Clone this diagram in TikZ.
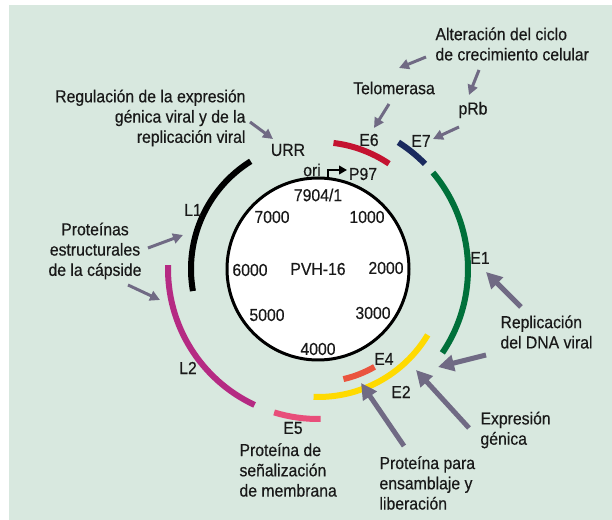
\documentclass[tikz,border=0pt]{standalone}
\usepackage{fontspec}
\setmainfont{Liberation Sans}[FakeStretch=0.91,FakeBold=0.4]
\usetikzlibrary{arrows.meta}

\definecolor{bgmint}{RGB}{216,232,223}
\definecolor{arrowgray}{RGB}{112,106,132}
\definecolor{geneLone}{RGB}{0,0,0}
\definecolor{geneLtwo}{RGB}{181,42,131}
\definecolor{geneEsix}{RGB}{196,18,48}
\definecolor{geneEseven}{RGB}{26,42,94}
\definecolor{geneEone}{RGB}{0,112,58}
\definecolor{geneEtwo}{RGB}{255,218,0}
\definecolor{geneEfour}{RGB}{234,84,62}
\definecolor{geneEfive}{RGB}{232,78,122}

\tikzset{every picture/.style={line width=0.75pt}}

\begin{document}
\begin{tikzpicture}[x=0.75pt,y=0.75pt,yscale=-1,xscale=1,
  lbl/.style={inner sep=0.75pt, text=black!90, font=\fontsize{13}{15.2}\selectfont},
  gene/.style={line width=4.5pt},
  pointer/.style={color=arrowgray, line width=2.25pt, -{Triangle[length=7.5pt,width=7.5pt]}},
  bigpointer/.style={color=arrowgray, line width=3.75pt, -{Triangle[length=12pt,width=12pt]}}]
%set diagram left start at 0, and has height of 520
\useasboundingbox (0,0) rectangle (612,520);
\fill[bgmint] (9,5) rectangle (612,520);

%Genome circle
\coordinate (c) at (318,269);
\node[lbl, circle, draw=black, fill=white, line width=2.25pt, minimum size=136.5pt] (pvh) at (c) {PVH-16};

%Gene arcs
\draw[gene, geneLone] ([shift={(-122:127)}]c) arc (-122:-190:127);
\draw[gene, geneEsix] ([shift={(-56:127)}]c) arc (-56:-83:127);
\draw[gene, geneEseven] ([shift={(-44.5:150)}]c) arc (-44.5:-57.6:150);
\draw[gene, geneEone] ([shift={(34:150)}]c) arc (34:-40:150);
\draw[gene, geneEtwo] ([shift={(92:128)}]c) arc (92:31:128);
\draw[gene, geneEfour] ([shift={(77:113)}]c) arc (77:60:113);
\draw[gene, geneEfive] ([shift={(107:150)}]c) arc (107:89:150);
\draw[gene, geneLtwo] ([shift={(-178.5:150)}]c) arc (-178.5:-245:150);

% Text Node
\node[lbl] (n7904) at (318,195) {7904/1};
\node[lbl] (n1000) at (367,217) {1000};
\node[lbl] (n2000) at (386,268) {2000};
\node[lbl] (n3000) at (373,313) {3000};
\node[lbl] (n4000) at (318,349) {4000};
\node[lbl] (n5000) at (267,315) {5000};
\node[lbl] (n6000) at (250,270) {6000};
\node[lbl] (n7000) at (272,217) {7000};

% Text Node
\node[lbl] (ori) at (312,170) {ori};
\node[lbl] (p97) at (363,174) {P97};
\coordinate (prom) at (328,179.5);
\coordinate (promtip) at (347,170);
\draw[line width=1.4pt, -{Triangle[length=6pt,width=6.5pt]}] (prom) |- (promtip);

% Text Node
\node[lbl] (urr) at (288,150) {URR};
\node[lbl] (e6) at (369,140) {E6};
\node[lbl] (e7) at (421,141) {E7};
\node[lbl] (e1) at (480,258) {E1};
\node[lbl] (e2) at (401,392) {E2};
\node[lbl] (e4) at (384,359) {E4};
\node[lbl] (e5) at (293,428) {E5};
\node[lbl] (l1) at (193,210) {L1};
\node[lbl] (l2) at (188,368) {L2};

% Text Node
\node[lbl, align=right, anchor=east] (reg) at (247,118) {Regulación de la expresión\\génica viral y de la\\replicación viral};
\node[lbl] (telo) at (394,88) {Telomerasa};
\node[lbl, align=left, anchor=west] (alt) at (434,44) {Alteración del ciclo\\de crecimiento celular};
\node[lbl] (prb) at (473,110) {pRb};
\node[lbl, align=center] (prot) at (95,251) {Proteínas\\estructurales\\de la cápside};
\node[lbl, align=left, anchor=west] (memb) at (238,470) {Proteína de\\señalización\\de membrana};
\node[lbl, align=left, anchor=west] (repl) at (499,332) {Replicación\\del DNA viral};
\node[lbl, align=left, anchor=west] (expr) at (479,430) {Expresión\\génica};
\node[lbl, align=left, anchor=west] (ens) at (378,483) {Proteína para\\ensamblaje y\\liberación};

%Straight Lines
\coordinate (regS) at (250,122);   \coordinate (regT) at (273,139);
\coordinate (altS) at (426,57);    \coordinate (altT) at (399,68);
\coordinate (alt2S) at (479,70);   \coordinate (alt2T) at (469,95);
\coordinate (teloS) at (389,104);  \coordinate (teloT) at (374,128);
\coordinate (prbS) at (459,127);   \coordinate (prbT) at (433,139);
\coordinate (protS) at (148,248);  \coordinate (protT) at (183,235);
\coordinate (prot2S) at (128,285); \coordinate (prot2T) at (160,300);
\draw[pointer] (regS) -- (regT);
\draw[pointer] (altS) -- (altT);
\draw[pointer] (alt2S) -- (alt2T);
\draw[pointer] (teloS) -- (teloT);
\draw[pointer] (prbS) -- (prbT);
\draw[pointer] (protS) -- (protT);
\draw[pointer] (prot2S) -- (prot2T);

%Straight Lines
\coordinate (replS) at (521,307);  \coordinate (replT) at (486,272);
\coordinate (repl2S) at (486,355); \coordinate (repl2T) at (438,367);
\coordinate (exprS) at (469,428);  \coordinate (exprT) at (416,370);
\coordinate (ensS) at (404,446);   \coordinate (ensT) at (361,383);
\draw[bigpointer] (replS) -- (replT);
\draw[bigpointer] (repl2S) -- (repl2T);
\draw[bigpointer] (exprS) -- (exprT);
\draw[bigpointer] (ensS) -- (ensT);

\end{tikzpicture}
\end{document}
